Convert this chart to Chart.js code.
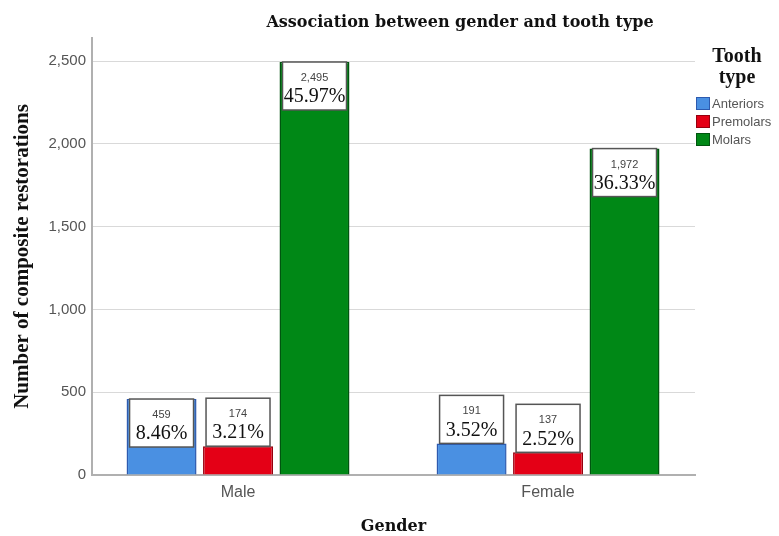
<!DOCTYPE html>
<html><head><meta charset="utf-8">
<script src="https://cdn.jsdelivr.net/npm/chart.js@4/dist/chart.umd.min.js"></script>
<style>html,body{margin:0;padding:0;background:#fff}#wrap{width:779px;height:536px}</style>
</head><body><div id="wrap"><canvas id="c" width="779" height="536"></canvas></div>
<script>
const categories = ["Male", "Female"];
const seriesNames = ["Anteriors", "Premolars", "Molars"];
const anteriors = [459, 191];
const premolars = [174, 137];
const molars = [2495, 1972];
const anteriorsPct = ["8.46%", "3.52%"];
const premolarsPct = ["3.21%", "2.52%"];
const molarsPct = ["45.97%", "36.33%"];
const yTicks = [0, 500, 1000, 1500, 2000, 2500];

const fills = ["rgb(74,144,226)", "rgb(228,0,22)", "rgb(0,136,22)"];
const borders = ["rgb(45,90,175)", "rgb(150,0,15)", "rgb(0,85,15)"];
const pcts = [anteriorsPct, premolarsPct, molarsPct];
const toPoints = arr => arr.map((v, i) => ({ x: i, y: v }));

const labelPlugin = {
  id: 'boxLabels',
  afterDatasetsDraw(chart) {
    const ctx = chart.ctx;
    chart.data.datasets.forEach((ds, di) => {
      const meta = chart.getDatasetMeta(di);
      meta.data.forEach((bar, i) => {
        const w = bar.width - 6;
        const h = 48;
        const barH = bar.base - bar.y;
        const top = barH >= h ? bar.y : bar.y - h;
        const left = bar.x - w / 2;
        ctx.save();
        ctx.fillStyle = '#fff';
        ctx.fillRect(left, top, w, h);
        ctx.strokeStyle = '#555';
        ctx.lineWidth = 1.5;
        ctx.strokeRect(left, top, w, h);
        ctx.textAlign = 'center';
        ctx.textBaseline = 'middle';
        ctx.fillStyle = '#444';
        ctx.font = '11px "Liberation Sans", Arial';
        ctx.fillText(ds.data[i].y.toLocaleString('en-US'), bar.x, top + 16);
        ctx.fillStyle = '#111';
        ctx.font = '20px "Liberation Serif", "Times New Roman"';
        ctx.fillText(pcts[di][i], bar.x, top + 35);
        ctx.restore();
      });
    });
  }
};

const decorPlugin = {
  id: 'decor',
  afterDraw(chart) {
    const ctx = chart.ctx;
    ctx.save();
    ctx.fillStyle = '#111';
    ctx.textAlign = 'center';
    ctx.textBaseline = 'middle';
    ctx.font = 'bold 16px "DejaVu Serif", serif';
    ctx.fillText('Association between gender and tooth type', 460, 23);
    ctx.font = 'bold 20px "Liberation Serif", serif';
    ctx.fillText('Tooth', 737, 57);
    ctx.fillText('type', 737, 78);
    chart.data.datasets.forEach((ds, di) => {
      const y = 97 + di * 18;
      ctx.fillStyle = ds.backgroundColor;
      ctx.fillRect(696, y, 14, 13);
      ctx.strokeStyle = ds.borderColor;
      ctx.lineWidth = 1;
      ctx.strokeRect(696.5, y + 0.5, 13, 12);
      ctx.fillStyle = '#555';
      ctx.textAlign = 'left';
      ctx.font = '13px "Liberation Sans", Arial';
      ctx.fillText(ds.label, 712, y + 7);
    });
    ctx.restore();
  }
};

new Chart(document.getElementById('c'), {
  type: 'bar',
  data: {
    datasets: [
      { label: seriesNames[0], data: toPoints(anteriors) },
      { label: seriesNames[1], data: toPoints(premolars) },
      { label: seriesNames[2], data: toPoints(molars) }
    ].map((d, i) => Object.assign(d, {
      backgroundColor: fills[i], borderColor: borders[i], borderWidth: 1.5,
      categoryPercentage: 0.74, barPercentage: 0.915
    }))
  },
  options: {
    responsive: false,
    animation: false,
    layout: { padding: { top: 38, right: 84, left: 0, bottom: 0 } },
    plugins: { legend: { display: false }, title: { display: false }, tooltip: { enabled: false } },
    scales: {
      x: {
        type: 'linear',
        offset: false,
        min: -0.471, max: 1.474,
        afterBuildTicks(s) { s.ticks = categories.map((c, i) => ({ value: i })); },
        grid: { display: false, drawTicks: false, offset: false },
        border: { color: '#b0b0b0', width: 2 },
        ticks: { color: '#555', font: { family: '"Liberation Sans", Arial', size: 16 }, padding: 8,
          callback: v => categories[v] },
        title: { display: true, text: 'Gender', color: '#111', font: { family: '"DejaVu Serif", serif', size: 16, weight: 'bold' }, padding: { top: 0, bottom: 0 } },
        afterFit(s) { s.height = 61; }
      },
      y: {
        min: 0, max: 2640,
        afterBuildTicks(s) { s.ticks = yTicks.map(v => ({ value: v })); },
        grid: { color: '#d9d9d9', lineWidth: 1, drawTicks: false },
        border: { color: '#b0b0b0', width: 2 },
        ticks: { color: '#555', font: { family: '"Liberation Sans", Arial', size: 15 }, padding: 6,
          callback: v => Number(v).toLocaleString('en-US') },
        title: { display: true, text: 'Number of composite restorations', color: '#111', font: { family: '"Liberation Serif", serif', size: 21, weight: 'bold' }, padding: { top: 10, bottom: 0 } },
        afterFit(s) { s.width = 92; }
      }
    }
  },
  plugins: [labelPlugin, decorPlugin]
});
</script></body></html>
